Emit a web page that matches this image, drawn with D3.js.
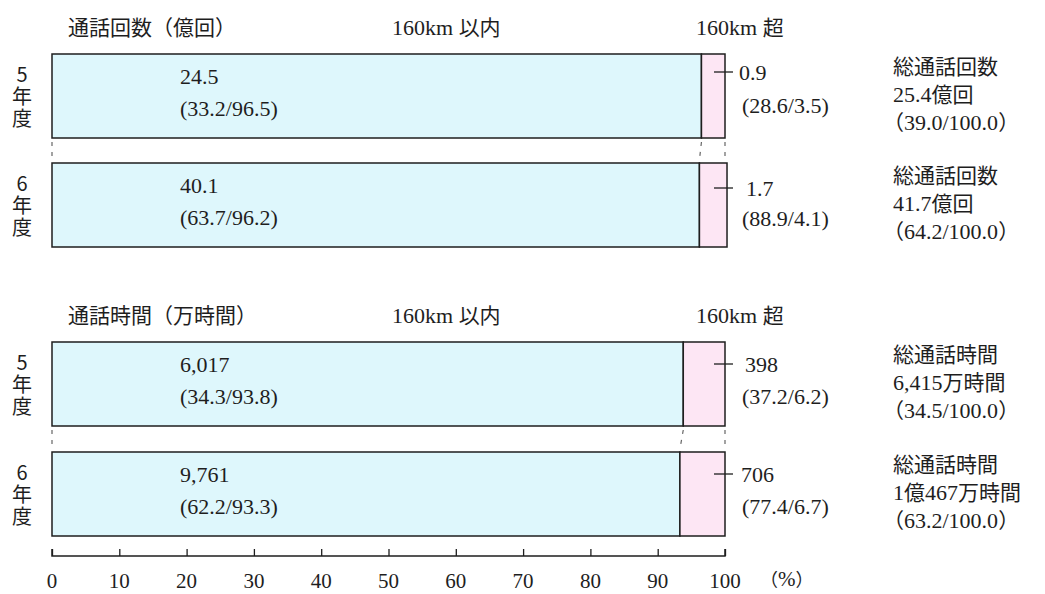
<!DOCTYPE html>
<html>
<head>
<meta charset="utf-8">
<script src="https://cdn.jsdelivr.net/npm/d3@7/dist/d3.min.js"></script>
<style>
  html, body { margin: 0; padding: 0; background: #fff; }
  svg text { font-family: "Liberation Serif", "Noto Sans CJK JP", serif; fill: #1e1e1e; }
  svg tspan.cjk { font-family: "Noto Sans CJK JP", sans-serif; }
  svg text.vert { writing-mode: vertical-rl; text-orientation: upright; }
</style>
</head>
<body>
<svg id="chart" width="1045" height="594"></svg>
<script>
// Fiscal years (shown vertically at the left of each bar)
const years = ["5年度", "6年度"];

// Number of calls (億回)
const callsWithin = ["24.5", "40.1"];
const callsBeyond = ["0.9", "1.7"];
const callsWithinGrowth = ["33.2", "63.7"];
const callsBeyondGrowth = ["28.6", "88.9"];
const callsWithinShare = [96.5, 96.2];
const callsBeyondShare = [3.5, 4.1];
const callsTotal = ["25.4億回", "41.7億回"];
const callsTotalGrowth = ["39.0", "64.2"];

// Call duration (万時間)
const timeWithin = ["6,017", "9,761"];
const timeBeyond = ["398", "706"];
const timeWithinGrowth = ["34.3", "62.2"];
const timeBeyondGrowth = ["37.2", "77.4"];
const timeWithinShare = [93.8, 93.3];
const timeBeyondShare = [6.2, 6.7];
const timeTotal = ["6,415万時間", "1億467万時間"];
const timeTotalGrowth = ["34.5", "63.2"];

// Axis
const axisTicks = [0, 10, 20, 30, 40, 50, 60, 70, 80, 90, 100];

const svg = d3.select("#chart");
const x = d3.scaleLinear().domain([0, 100]).range([52, 725]);

const BLUE = "#def7fc";
const PINK = "#fde6f4";
const STROKE = "#1e1e1e";
const NUM = 22;   // latin/numeric text size
const CJK = 21;   // kanji text size

const CJK_RUN = /[\u3000-\u9fff\uff00-\uffef]+|[^\u3000-\u9fff\uff00-\uffef]+/g;
const IS_CJK = /[\u3000-\u9fff\uff00-\uffef]/;

// one text element; each line is split into latin and kanji runs sized separately.
// lines may be plain strings or {s, dx} to nudge a line horizontally
function label(parent, xx, yy, lines, numSize = NUM, cjkSize = CJK, lineGap = 26) {
  if (!Array.isArray(lines)) lines = [lines];
  const t = parent.append("text").attr("x", xx).attr("y", yy);
  lines.forEach((line, li) => {
    const str = typeof line === "string" ? line : line.s;
    const dx = typeof line === "string" ? 0 : line.dx;
    (str.match(CJK_RUN) || []).forEach((s, k) => {
      const isCjk = IS_CJK.test(s);
      const ts = t.append("tspan")
        .attr("class", isCjk ? "cjk" : null)
        .attr("font-size", isCjk ? cjkSize : numSize)
        .text(s);
      if (k === 0) ts.attr("x", xx + dx).attr("y", yy + li * lineGap);
    });
  });
  return t;
}

const panels = [
  {
    title: "通話回数（億回）", totalTitle: "総通話回数",
    within: callsWithin, beyond: callsBeyond,
    wGrowth: callsWithinGrowth, bGrowth: callsBeyondGrowth,
    wShare: callsWithinShare, bShare: callsBeyondShare,
    total: callsTotal, tGrowth: callsTotalGrowth,
    headY: 35, barTops: [54, 163], beyondX: [739, 746],
    leaderDy: [18, 25], shareDy: [59, 63]
  },
  {
    title: "通話時間（万時間）", totalTitle: "総通話時間",
    within: timeWithin, beyond: timeBeyond,
    wGrowth: timeWithinGrowth, bGrowth: timeBeyondGrowth,
    wShare: timeWithinShare, bShare: timeBeyondShare,
    total: timeTotal, tGrowth: timeTotalGrowth,
    headY: 323, barTops: [342, 452], beyondX: [745, 741],
    leaderDy: [22, 22], shareDy: [62, 62]
  }
];
const barH = 84;

panels.forEach(p => {
  const g = svg.append("g");

  // headings
  label(g, 68, p.headY, p.title);
  label(g, 392, p.headY, "160km 以内");
  label(g, 696, p.headY, "160km 超");

  // dashed connectors between the two bars
  const y0 = p.barTops[0] + barH, y1 = p.barTops[1];
  [[x(0), x(0)], [x(p.wShare[0]), x(p.wShare[1])], [x(100), x(100)]].forEach(([a, b]) => {
    g.append("line")
      .attr("x1", a).attr("x2", b).attr("y1", y0 + 4).attr("y2", y1 - 3)
      .attr("stroke", "#666").attr("stroke-width", 1.2)
      .attr("stroke-dasharray", "4,6");
  });

  years.forEach((yr, i) => {
    const top = p.barTops[i];
    const split = x(p.wShare[i]);

    // within 160km
    g.append("rect")
      .attr("x", x(0)).attr("y", top)
      .attr("width", split - x(0)).attr("height", barH)
      .attr("fill", BLUE).attr("stroke", STROKE).attr("stroke-width", 1.5);
    // beyond 160km
    g.append("rect")
      .attr("x", split).attr("y", top)
      .attr("width", x(p.wShare[i] + p.bShare[i]) - split).attr("height", barH)
      .attr("fill", PINK).attr("stroke", STROKE).attr("stroke-width", 1.5);

    // year label set vertically
    g.append("text")
      .attr("class", "vert")
      .attr("x", 22).attr("y", top + 10)
      .attr("font-size", 20)
      .style("font-family", "'Noto Sans CJK JP', sans-serif")
      .style("letter-spacing", "2px")
      .text(yr);

    // within labels
    label(g, 180, top + 30, [p.within[i], `(${p.wGrowth[i]}/${p.wShare[i].toFixed(1)})`], NUM, CJK, 32);

    // beyond leader and labels
    const ly = top + p.leaderDy[i];
    g.append("line")
      .attr("x1", 714).attr("x2", 733).attr("y1", ly).attr("y2", ly)
      .attr("stroke", STROKE).attr("stroke-width", 1.3);
    label(g, p.beyondX[i], ly + 8, p.beyond[i]);
    label(g, 742, top + p.shareDy[i], `(${p.bGrowth[i]}/${p.bShare[i].toFixed(1)})`);

    // totals
    label(g, 893, top + 20,
      [p.totalTitle, p.total[i], { s: `（${p.tGrowth[i]}/100.0）`, dx: -10 }], NUM, 21, 28);
  });
});

// percent axis
const axisY = 556;
const axis = d3.axisTop(x).tickValues(axisTicks).tickSize(7).tickFormat("");
const ag = svg.append("g").attr("transform", `translate(0,${axisY})`).call(axis);
ag.select(".domain").attr("d", `M${x(0)},-7V0H${x(100)}V-7`).attr("stroke", STROKE).attr("stroke-width", 1.5);
ag.selectAll(".tick line").attr("stroke", STROKE).attr("stroke-width", 1.3);

svg.append("g").selectAll("text")
  .data(axisTicks).join("text")
  .attr("x", d => x(d)).attr("y", 588)
  .attr("text-anchor", "middle").attr("font-size", 21)
  .text(d => d);
label(svg, 760, 586, "（%）", 21, 18);
</script>
</body>
</html>
